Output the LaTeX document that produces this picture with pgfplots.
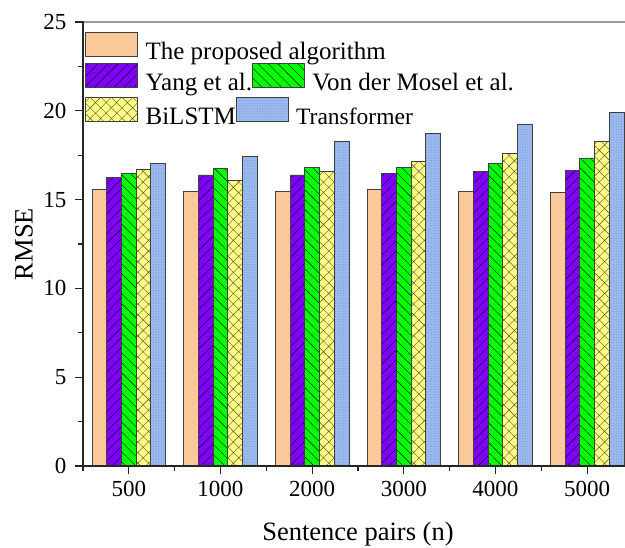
\documentclass[border=0pt]{standalone}
\usepackage{pgfplots}
\pgfplotsset{compat=1.18}
\usetikzlibrary{patterns.meta}
\usepackage{fontspec}
\setmainfont{Liberation Serif}
\definecolor{cprop}{HTML}{FBC999}
\definecolor{cyang}{HTML}{8000FF}
\definecolor{cvon}{HTML}{00FF00}
\definecolor{cbil}{HTML}{FFFF80}
\definecolor{ctr}{HTML}{9AB9EE}
\definecolor{ctrdot}{HTML}{5E7FB5}
\tikzset{
  sprop/.style={fill=cprop, draw=black!75, line width=0.8bp},
  syang/.style={fill=cyang, draw=black!75, line width=0.8bp, postaction={pattern={Lines[angle=45,distance=7bp,line width=0.4bp]}, pattern color=black}},
  svon/.style={fill=cvon, draw=black!75, line width=0.8bp, postaction={pattern={Lines[angle=-45,distance=7bp,line width=0.4bp]}, pattern color=black}},
  sbil/.style={fill=cbil, draw=black!75, line width=0.8bp, postaction={pattern={Hatch[angle=45,distance=7.5bp,line width=0.4bp]}, pattern color=black!70}},
  str/.style={fill=ctr, draw=black!75, line width=0.8bp, postaction={pattern={Dots[distance=2.6bp,radius=0.35bp]}, pattern color=ctrdot}},
}
\pgfplotsset{
  legover/.style={scale only axis, width=550bp, height=444bp, hide axis,
    xmin=0, xmax=1, ymin=0, ymax=1,
    legend image code/.code={\draw[##1] (2bp,-4.5bp) rectangle (54bp,19.5bp); \path (61.5bp,0bp);},
    legend style={draw=none, fill=none, inner sep=0pt, outer sep=0pt, column sep=0pt,
      nodes={inner sep=0pt, outer sep=0pt}, font=\fontsize{25bp}{29bp}\selectfont,
      at={(0,1)}, anchor=north west},
    legend cell align=left},
}
\begin{document}
\begin{tikzpicture}
\begin{axis}[name=main,
  scale only axis, width=550bp, height=444bp,
  ybar=0pt, bar width=14.7bp,
  xmin=-0.5, xmax=5.5, ymin=0, ymax=25,
  xtick={0,1,2,3,4,5}, xticklabels={500,1000,2000,3000,4000,5000},
  minor xtick={-0.5,0.5,1.5,2.5,3.5,4.5},
  ytick={0,5,10,15,20,25},
  minor ytick={2.5,7.5,12.5,17.5,22.5},
  xtick pos=left, ytick pos=left,
  tick align=outside,
  major tick length=8bp, minor tick length=4.5bp,
  major tick style={black!85, line width=1.2bp},
  minor tick style={black!85, line width=1.2bp},
  axis on top,
  axis line style={line width=1.2bp, black!85},
  /pgf/number format/assume math mode=true,
  ticklabel style={font=\fontsize{23bp}{27bp}\selectfont},
  yticklabel style={xshift=-5bp},
  xticklabel style={yshift=-4bp},
  label style={font=\fontsize{26.5bp}{30bp}\selectfont},
  xlabel={Sentence pairs (n)}, ylabel={RMSE},
  xlabel style={at={(axis description cs:0.5,0)}, anchor=base, yshift=-74.5bp},
  ylabel style={at={(axis description cs:-0.1073,0.5)}, anchor=center},
  clip=false,
]
\addplot[sprop] coordinates {(0,15.55) (1,15.46) (2,15.46) (3,15.55) (4,15.46) (5,15.38)};
\addplot[syang] coordinates {(0,16.24) (1,16.39) (2,16.39) (3,16.45) (4,16.56) (5,16.66)};
\addplot[svon] coordinates {(0,16.45) (1,16.73) (2,16.79) (3,16.83) (4,17.05) (5,17.31)};
\addplot[sbil] coordinates {(0,16.69) (1,16.06) (2,16.60) (3,17.14) (4,17.62) (5,18.27)};
\addplot[str] coordinates {(0,17.05) (1,17.41) (2,18.25) (3,18.70) (4,19.26) (5,19.92)};
\end{axis}
\draw[white, line width=2bp] ([xshift=0.7bp]main.north west) -- (main.north east);
\draw[black!40, line width=1.2bp] ([xshift=0.6bp]main.north west) -- (main.north east);
\begin{axis}[legover, legend style={xshift=2.3bp, yshift=-9.7bp}]
\addlegendimage{sprop}\addlegendentry{The proposed algorithm}
\end{axis}
\begin{axis}[legover, legend columns=2, legend style={xshift=2.3bp, yshift=-40.7bp}]
\addlegendimage{syang}\addlegendentry{Yang et al.}
\addlegendimage{svon}\addlegendentry{Von der Mosel et al.}
\end{axis}
\begin{axis}[legover, legend columns=2, legend style={xshift=2.3bp, yshift=-74.7bp}]
\addlegendimage{sbil}\addlegendentry{BiLSTM}
\addlegendimage{str}\addlegendentry{\fontsize{23.5bp}{27bp}\selectfont Transformer}
\end{axis}
\pgfresetboundingbox
\path[use as bounding box] ([shift={(-83bp,-82bp)}]main.south west) rectangle ([shift={(542bp,466bp)}]main.south west);
\end{tikzpicture}
\end{document}
